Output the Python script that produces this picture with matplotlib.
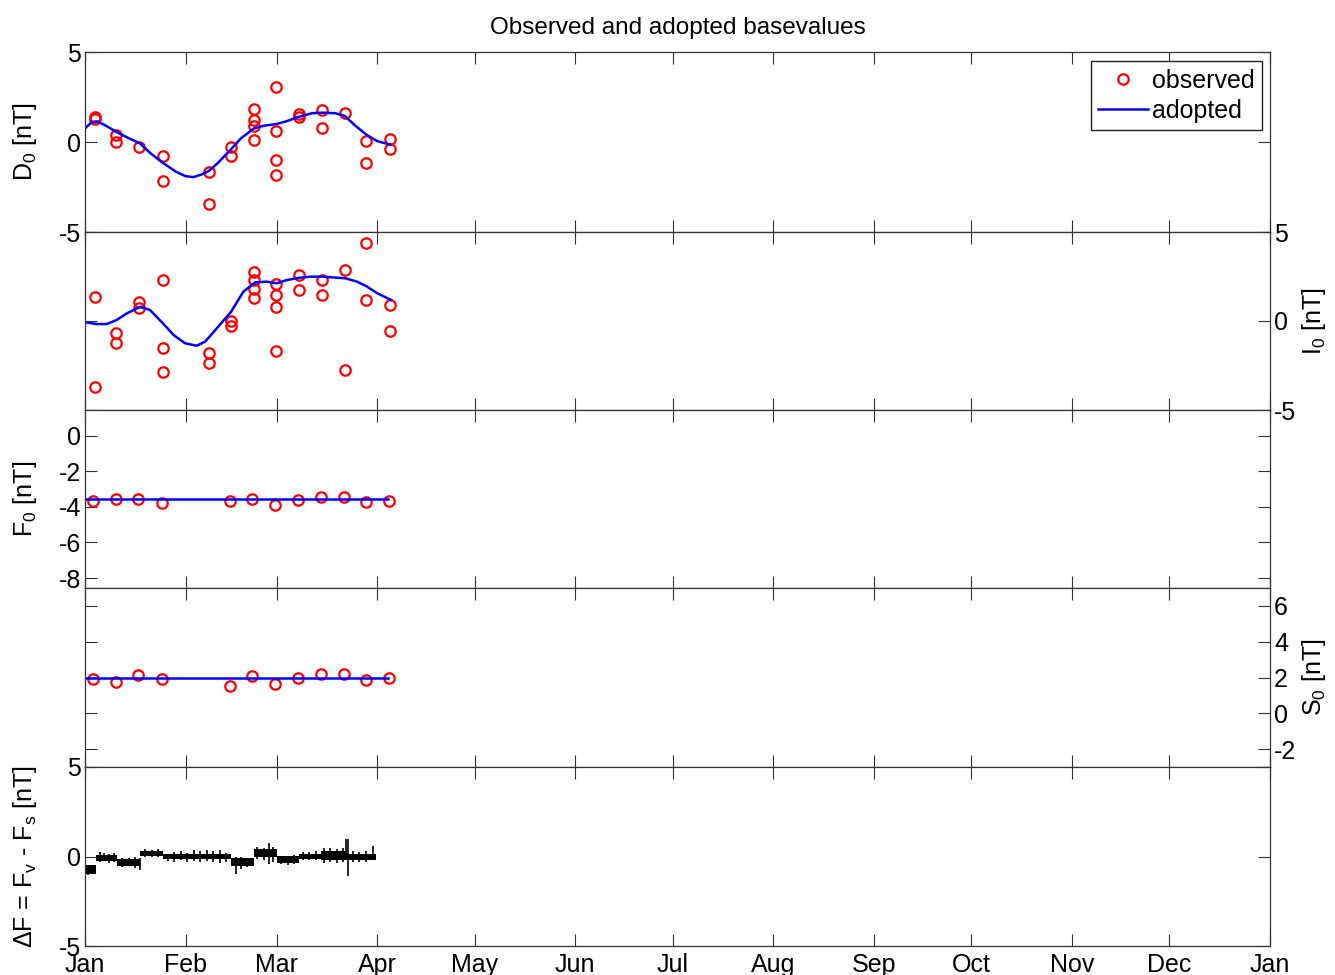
# -*- coding: UTF-8 -*-
import numpy as np
import matplotlib.pyplot as plt

plt.rcParams['font.family'] = ['Liberation Sans', 'DejaVu Sans']
plt.rcParams['font.size'] = 18
plt.rcParams['axes.unicode_minus'] = False
plt.rcParams['mathtext.fontset'] = 'custom'
plt.rcParams['mathtext.rm'] = 'Liberation Sans'
plt.rcParams['mathtext.it'] = 'Liberation Sans'

# month ticks (day of year)
months = ['Jan', 'Feb', 'Mar', 'Apr', 'May', 'Jun', 'Jul', 'Aug', 'Sep', 'Oct', 'Nov', 'Dec', 'Jan']
month_days = [0, 31, 59, 90, 120, 151, 181, 212, 243, 273, 304, 334, 365]

# D0 observed / adopted
d_obs_day = [3.0, 3.0, 9.7, 9.7, 16.7, 23.9, 23.9, 38.1, 38.1, 44.9, 44.9, 52.2, 52.2, 52.0, 52.0,
             58.8, 58.8, 58.8, 58.8, 65.8, 65.8, 72.9, 72.9, 80.0, 86.6, 86.6, 93.9, 93.9]
d_obs_val = [1.4, 1.3, 0.4, 0.02, -0.26, -0.8, -2.17, -1.69, -3.46, -0.26, -0.76, 1.81, 1.22, 0.91, 0.11,
             3.04, 0.63, -1.0, -1.83, 1.56, 1.4, 1.78, 0.8, 1.63, 0.07, -1.15, 0.17, -0.41]
d_adp_day = [0, 2, 3.6, 6, 9.8, 13, 16.9, 20, 23.9, 28, 31, 33.4, 36, 38.2, 41, 45, 48, 52, 55, 59,
             62, 65.9, 70, 73, 77, 80, 83, 86.7, 90, 94]
d_adp_val = [0.75, 1.1, 1.15, 0.95, 0.55, 0.25, -0.07, -0.6, -1.15, -1.65, -1.9, -1.95, -1.8, -1.6, -1.15,
             -0.4, 0.2, 0.75, 0.9, 1.0, 1.15, 1.4, 1.6, 1.63, 1.6, 1.45, 0.95, 0.4, 0.05, -0.15]

# I0 observed / adopted
i_obs_day = [3.0, 3.0, 9.7, 9.7, 16.7, 16.7, 23.9, 23.9, 23.9, 38.1, 38.1, 44.9, 44.9,
             52.2, 52.0, 52.2, 52.0, 58.8, 58.8, 58.8, 58.8, 65.8, 65.8, 72.9, 72.9,
             80.0, 80.0, 86.6, 86.6, 93.9, 93.9]
i_obs_val = [1.33, -3.72, -0.66, -1.25, 1.09, 0.71, 2.3, -1.54, -2.88, -1.78, -2.34, 0.02, -0.28,
             2.73, 2.3, 1.78, 1.31, 2.06, 1.46, 0.77, -1.67, 2.58, 1.74, 2.3, 1.46,
             2.87, -2.75, 4.37, 1.18, 0.9, -0.56]
i_adp_day = [0, 3.6, 6.7, 9.8, 12.9, 17, 20, 24, 27.3, 30.8, 34.4, 37, 40.6, 45, 48.8, 52.4, 56, 59,
             62.2, 66, 69.4, 73.2, 80.2, 83.8, 86.9, 90, 94.3]
i_adp_val = [-0.07, -0.17, -0.17, 0.06, 0.43, 0.8, 0.62, -0.13, -0.79, -1.25, -1.39, -1.16, -0.41, 0.52,
             1.65, 2.17, 2.21, 2.12, 2.3, 2.43, 2.49, 2.49, 2.4, 2.21, 1.93, 1.56, 1.18]

# F0 and S0 (scalar) observed / adopted
fs_obs_day = [2.6, 9.5, 16.4, 23.8, 44.7, 51.5, 58.6, 65.6, 72.7, 79.8, 86.4, 93.6]
f_obs_val = [-3.67, -3.54, -3.54, -3.76, -3.67, -3.54, -3.87, -3.59, -3.45, -3.45, -3.73, -3.67]
f_adopted = -3.56
s_obs_val = [1.92, 1.76, 2.14, 1.92, 1.5, 2.06, 1.65, 1.99, 2.2, 2.2, 1.86, 1.99]
s_adopted = 2.0
fs_adp_day = [0, 93.4]

# delta F = Fv - Fs : level segments with their scatter band, plus spikes
df_start = [0, 3.3, 9.95, 16.9, 24.1, 44.9, 52.1, 59.1, 65.9, 72.6, 80.8]
df_end = [3.3, 9.95, 16.9, 24.1, 44.9, 52.1, 59.1, 65.9, 72.6, 80.8, 89.5]
df_level = [-0.74, -0.08, -0.33, 0.19, -0.02, -0.31, 0.2, -0.16, 0.0, 0.05, -0.04]
df_half = [0.25, 0.15, 0.19, 0.14, 0.14, 0.2, 0.22, 0.18, 0.14, 0.25, 0.18]
spike_day = [1.0, 2.2, 4.5, 6.0, 7.5, 9.0, 11.5, 13.5, 15.5, 16.8, 18.5, 20.5, 22.5,
             25.5, 27.5, 29.5, 31.5, 33.5, 35.5, 37.5, 39.5, 41.5, 43.5,
             46.4, 48.0, 50.0, 53.0, 55.0, 56.8, 58.0, 60.5, 62.5, 64.5,
             67.0, 69.0, 71.0, 73.5, 75.5, 77.5, 79.5, 80.4, 80.9, 82.5, 84.5, 86.5, 88.8]
spike_lo = [-1.05, -0.95, -0.3, -0.25, -0.35, -0.3, -0.6, -0.55, -0.65, -0.75, 0.0, -0.05, 0.0,
            -0.25, -0.3, -0.2, -0.3, -0.25, -0.3, -0.25, -0.3, -0.35, -0.3,
            -1.0, -0.7, -0.6, -0.15, -0.2, -0.44, -0.3, -0.4, -0.45, -0.4,
            -0.2, -0.2, -0.2, -0.35, -0.3, -0.35, -0.3, -0.1, -1.09, -0.3, -0.3, -0.3, -0.15]
spike_hi = [-0.45, -0.5, 0.25, 0.2, 0.15, 0.2, -0.1, -0.1, -0.05, -0.1, 0.4, 0.35, 0.4,
            0.15, 0.25, 0.3, 0.2, 0.35, 0.3, 0.35, 0.3, 0.35, 0.2,
            0.0, -0.05, -0.1, 0.55, 0.5, 0.77, 0.55, 0.05, 0.05, 0.1,
            0.25, 0.25, 0.3, 0.45, 0.45, 0.4, 0.45, 0.96, 0.96, 0.3, 0.25, 0.3, 0.59]

fig = plt.figure(figsize=(13.35, 9.75), dpi=100)
W, H = 1335.0, 975.0
left, right = 85 / W, 1270 / W
edges = [52, 232, 410, 588, 767, 946]
axes = []
for k in range(5):
    ax = fig.add_axes([left, 1 - edges[k + 1] / H, right - left, (edges[k + 1] - edges[k]) / H])
    axes.append(ax)

red_kw = dict(ls='none', marker='o', mfc='none', mec='red', ms=7.5, mew=1.6)
blue_kw = dict(color='blue', lw=1.8)

ax1, ax2, ax3, ax4, ax5 = axes
ax1.plot(d_obs_day, d_obs_val, label='observed', **red_kw)
ax1.plot(d_adp_day, d_adp_val, label='adopted', **blue_kw)
ax1.set_ylim(-5, 5)
ax1.set_yticks([-5, 0, 5])
ax1.set_ylabel('D$_0$ [nT]')
leg = ax1.legend(loc='upper right', bbox_to_anchor=(0.9935, 0.95), fancybox=False, framealpha=1,
                 edgecolor='#222222', handlelength=2.0, handletextpad=0.15, borderpad=0.3,
                 labelspacing=0.25, borderaxespad=0, fontsize=18)
leg.get_frame().set_linewidth(1.0)

ax2.plot(i_obs_day, i_obs_val, **red_kw)
ax2.plot(i_adp_day, i_adp_val, **blue_kw)
ax2.set_ylim(-5, 5)
ax2.set_yticks([-5, 0, 5])
ax2.set_ylabel('I$_0$ [nT]')

ax3.plot(fs_obs_day, f_obs_val, **red_kw)
ax3.plot(fs_adp_day, [f_adopted, f_adopted], **blue_kw)
ax3.set_ylim(f_adopted - 5, f_adopted + 5)
ax3.set_yticks([-8, -6, -4, -2, 0])
ax3.set_ylabel('F$_0$ [nT]')

ax4.plot(fs_obs_day, s_obs_val, **red_kw)
ax4.plot(fs_adp_day, [s_adopted, s_adopted], **blue_kw)
ax4.set_ylim(s_adopted - 5, s_adopted + 5)
ax4.set_yticks([-2, 0, 2, 4, 6])
ax4.set_ylabel('S$_0$ [nT]')

for a, b, lv, hw in zip(df_start, df_end, df_level, df_half):
    ax5.fill_between([a, b], [lv - hw, lv - hw], [lv + hw, lv + hw], color='black', lw=0)
ax5.vlines(spike_day, spike_lo, spike_hi, color='black', lw=1.2)
ax5.set_ylim(-5, 5)
ax5.set_yticks([-5, 0, 5])
ax5.set_ylabel('$\\Delta$F = F$_v$ - F$_s$ [nT]')

for k, ax in enumerate(axes):
    ax.set_xlim(0, 365)
    ax.set_xticks(month_days)
    ax.tick_params(direction='in', length=8.5, width=0.8, top=True, right=True, labelsize=18, pad=3,
                   colors='#333333', labelcolor='black')
    for s in ax.spines.values():
        s.set_color('#333333')
        s.set_linewidth(0.9)
    if k < 4:
        ax.set_xticklabels([])
    else:
        ax.set_xticklabels(months)
        ax.tick_params(axis='x', pad=5)
    if k in (1, 3):
        ax.yaxis.tick_right()
        ax.tick_params(axis='y', left=True, right=True)
        ax.yaxis.set_label_position('right')
        ax.yaxis.set_label_coords(1.025, 0.5)
    else:
        ax.yaxis.set_label_coords(-0.039, 0.5)

ax1.set_title('Observed and adopted basevalues', fontsize=17.5, pad=13)

plt.savefig('out.png', dpi=100)
